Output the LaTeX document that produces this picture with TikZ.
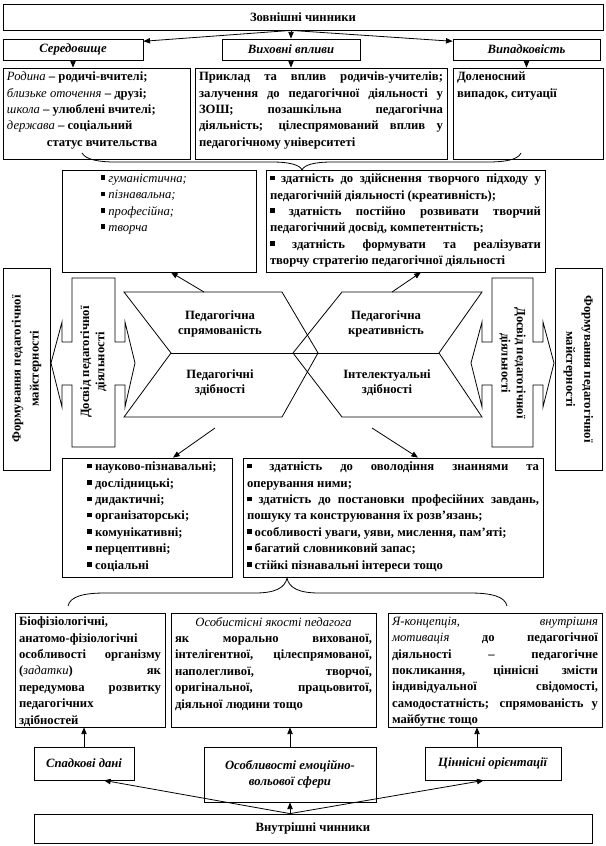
\documentclass[tikz,border=0pt]{standalone}
\usepackage{fontspec}
\setmainfont{Liberation Serif}
\usetikzlibrary{arrows.meta}

\newlength{\pxu}
\setlength{\pxu}{0.75pt}
\newcommand{\topcell}[3]{\parbox[c][#2\pxu][t]{#1\pxu}{#3}}
\newcommand{\midcell}[3]{\parbox[c][#2\pxu][c]{#1\pxu}{\centering #3}}
\newcommand{\mdit}[1]{\textmd{\textit{#1}}}
\newcommand{\sq}{\rule[0.2em]{0.36em}{0.36em}\ }

\begin{document}
\begin{tikzpicture}[x=0.75pt,y=-0.75pt,
		box/.style={draw, line width=0.6pt, fill=white, inner sep=3pt, font=\bfseries\fontsize{9.5}{12.3}\selectfont},
		lbl/.style={font=\bfseries\fontsize{9.5}{11.5}\selectfont, align=center, inner sep=1pt},
		ln/.style={line width=0.6pt},
		arr/.style={line width=0.6pt, -{Triangle[length=5pt,width=4pt]}}]
	\useasboundingbox (0,0) rectangle (606,846);

	\node[box] (outer) at (303,17) {\midcell{592}{18}{Зовнішні чинники}};

	\node[box] (env) at (73,49.5) {\midcell{132}{13}{\textit{Середовище}}};
	\node[box] (vply) at (291,49.5) {\midcell{130}{13}{\textit{Виховні впливи}}};
	\node[box] (vypad) at (526.5,49.5) {\midcell{139}{13}{\textit{Випадковість}}};

	\node[box] (fam) at (96.5,113.5) {\topcell{179}{83}{\raggedright
		\mdit{Родина} -- родичі-вчителі;\\
		\mdit{близьке оточення} -- друзі;\\
		\mdit{школа} -- улюблені вчителі;\\
		\mdit{держава} -- соціальний\\
		\hspace*{30pt}статус вчительства}};
	\node[box] (prykl) at (321,113.5) {\topcell{244}{83}{Приклад та вплив родичів-учителів;\linebreak
		залучення до педагогічної діяльності у\linebreak
		ЗОШ; позашкільна педагогічна\linebreak
		діяльність; цілеспрямований вплив у\linebreak
		педагогічному університеті}};
	\node[box] (dolen) at (528,113.5) {\topcell{142}{83}{\raggedright Доленосний\\ випадок, ситуації}};

	\draw[ln] (82,153) .. controls (86,160) and (100,162) .. (115,162) -- (272,162)
		.. controls (290,162) and (300,165) .. (302,170)
		.. controls (304,165) and (314,162) .. (332,162) -- (488,162)
		.. controls (504,162) and (518,160) .. (521,153);

	\node[box] (hum) at (159,221) {\topcell{186}{94}{\raggedright
		\hspace*{26pt}\sq\mdit{гуманістична;}\\
		\hspace*{26pt}\sq\mdit{пізнавальна;}\\
		\hspace*{26pt}\sq\mdit{професійна;}\\
		\hspace*{26pt}\sq\mdit{творча}}};
	\node[box] (kreat) at (405.5,221) {\topcell{271}{94}{\sq здатність до здійснення творчого підходу у\linebreak
		педагогічній діяльності (креативність);\\
		\sq здатність постійно розвивати творчий\linebreak
		педагогічний досвід, компетентність;\\
		\sq здатність формувати та реалізувати\linebreak
		творчу стратегію педагогічної діяльності}};

	\node[box, rotate=90] (form1) at (26.5,369) {\midcell{194}{39}{\fontsize{9.5}{13.5}\selectfont Формування педагогічної\\майстерності}};
	\node[box, rotate=-90] (form2) at (578.5,369) {\midcell{194}{39}{\fontsize{9.5}{13.5}\selectfont Формування педагогічної\\майстерності}};

	\draw[ln] (72,278) -- (115,278) -- (115,342) -- (125,342) -- (125,322) -- (135,363) -- (125,407) -- (125,385)
		-- (115,385) -- (115,447) -- (72,447) -- (72,385) -- (62,385) -- (62,407) -- (51,363) -- (62,322) -- (62,342) -- (72,342) -- cycle;
	\draw[ln] (492,278) -- (533,278) -- (533,342) -- (543,342) -- (543,322) -- (554,363) -- (543,407) -- (543,385)
		-- (533,385) -- (533,447) -- (492,447) -- (492,385) -- (482,385) -- (482,407) -- (471,363) -- (482,322) -- (482,342) -- (492,342) -- cycle;
	\node[lbl, rotate=90] (dosv1) at (93.5,362) {Досвід педагогічної\\діяльності};
	\node[lbl, rotate=-90] (dosv2) at (512.5,363) {Досвід педагогічної\\діяльності};

	\draw[ln] (124,292) -- (282,292) -- (318,353) -- (282,417) -- (124,417) -- (171,353) -- cycle;
	\draw[ln] (171,353) -- (318,353);
	\draw[ln] (342,292) -- (482,292) -- (439,353) -- (482,417) -- (342,417) -- (293,353) -- cycle;
	\draw[ln] (293,353) -- (439,353);

	\node[lbl] (spr) at (220,324) {Педагогічна\\спрямованість};
	\node[lbl] (kre) at (386,324) {Педагогічна\\креативність};
	\node[lbl] (pzd) at (220,383) {Педагогічні\\здібності};
	\node[lbl] (izd) at (387,383) {Інтелектуальні\\здібності};

	\node[box] (nauk) at (147,517.5) {\topcell{162}{111}{\raggedright
		\hspace*{16pt}\sq науково-пізнавальні;\\
		\hspace*{16pt}\sq дослідницькі;\\
		\hspace*{16pt}\sq дидактичні;\\
		\hspace*{16pt}\sq організаторські;\\
		\hspace*{16pt}\sq комунікативні;\\
		\hspace*{16pt}\sq перцептивні;\\
		\hspace*{16pt}\sq соціальні}};
	\node[box] (zdat) at (393,517.5) {\topcell{292}{111}{\sq здатність до оволодіння знаннями та\linebreak
		оперування ними;\\
		\sq здатність до постановки професійних завдань,\linebreak
		пошуку та конструювання їх розв’язань;\\
		\sq особливості уваги, уяви, мислення, пам’яті;\\
		\sq багатий словниковий запас;\\
		\sq стійкі пізнавальні інтереси тощо}};

	\coordinate (a1) at (204,292);
	\coordinate (a2) at (392,292);
	\coordinate (a3) at (215,428);
	\coordinate (a4) at (372,428);
	\draw[arr] (a1) -- ([xshift=9pt]hum.south);
	\draw[arr] (a2) -- ([xshift=11.5pt]kreat.south);
	\draw[arr] (a3) -- ([xshift=19.5pt]nauk.north);
	\draw[arr] (a4) -- ([xshift=18.75pt]zdat.north);

	\draw[ln] (68,606) .. controls (70,596) and (85,593) .. (105,593) -- (255,593)
		.. controls (275,593) and (285,588) .. (287,578)
		.. controls (289,588) and (299,593) .. (319,593) -- (470,593)
		.. controls (490,593) and (505,596) .. (507,606);

	\node[box] (bio) at (90,670) {\topcell{142}{106}{Біофізіологічні,\\
		анатомо-фізіологічні\linebreak
		особливості організму\linebreak
		(\mdit{задатки}) як\linebreak
		передумова розвитку\linebreak
		педагогічних\\
		здібностей}};
	\node[box] (osob) at (273.5,670) {\topcell{197}{106}{{\centering\mdit{Особистісні якості педагога}\par}
		як морально вихованої,\linebreak
		інтелігентної, цілеспрямованої,\linebreak
		наполегливої, творчої,\linebreak
		оригінальної, працьовитої,\linebreak
		діяльної людини тощо}};
	\node[box] (yak) at (495,670) {\topcell{206}{106}{\mdit{Я-концепція, внутрішня}\linebreak
		\mdit{мотивація} до педагогічної\linebreak
		діяльності -- педагогічне\linebreak
		покликання, ціннісні змісти\linebreak
		індивідуальної свідомості,\linebreak
		самодостатність; спрямованість у\linebreak
		майбутнє тощо}};

	\node[box] (spad) at (84,763.5) {\midcell{92}{25}{\textit{Спадкові дані}}};
	\node[box] (emo) at (290,774.5) {\midcell{164}{47}{\textit{Особливості емоційно-\\вольової сфери}}};
	\node[box] (cinn) at (493,763.5) {\midcell{128}{25}{\textit{Ціннісні орієнтації}}};
	\node[box] (vnutr) at (313,828.5) {\midcell{550}{21}{Внутрішні чинники}};

	\draw[arr] (outer.south -| vply) -- (vply.north);
	\draw[arr] (outer.south -| vply) -- ([yshift=-2pt]env.north east);
	\draw[arr] (outer.south -| vply) -- ([yshift=-2pt]vypad.north west);
	\draw[arr] (env.south) -- (env.south |- fam.north);
	\draw[arr] (vply.south) -- (vply.south |- prykl.north);
	\draw[arr] (vypad.south) -- (vypad.south |- dolen.north);

	\coordinate (c3) at ([xshift=-12pt]cinn.north);
	\draw[arr] (spad.north) -- (spad.north |- bio.south);
	\draw[arr] (emo.north) -- (emo.north |- osob.south);
	\draw[arr] (c3) -- (c3 |- yak.south);
	\draw[arr] (vnutr.north -| emo) -- (emo.south);
	\draw[arr] (vnutr.north -| emo) -- ([xshift=15pt]spad.south);
	\draw[arr] (vnutr.north -| emo) -- ([xshift=-7pt]cinn.south);
\end{tikzpicture}
\end{document}
